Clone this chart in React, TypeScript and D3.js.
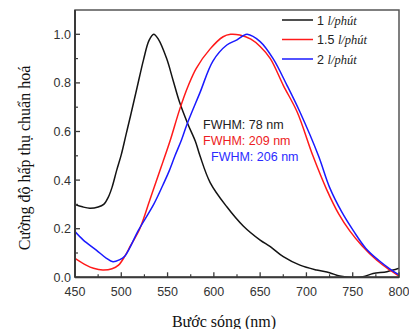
import React from "react";
import * as d3 from "d3";

const xTicks = [450, 500, 550, 600, 650, 700, 750, 800];
const yTicks = [0, 0.2, 0.4, 0.6, 0.8, 1.0];
const xLabel = "Bước sóng (nm)";
const yLabel = "Cường độ hấp thụ chuẩn hoá";

const seriesNames = ["1", "1.5", "2"];
const seriesUnit = "l/phút";
const seriesColors = ["#141414", "#ff1a1a", "#1a1aff"];
const fwhmLabels = ["FWHM: 78 nm", "FWHM: 209 nm", "FWHM: 206 nm"];
const fwhmColors = ["#222222", "#ec1c24", "#2b2bff"];

const blackWl = [450, 458, 466, 475, 481, 486, 490, 495, 500, 505, 510, 517, 524, 530, 535, 540, 549, 556, 563, 572, 580, 585, 596, 614, 632, 650, 661, 675, 693, 711, 725, 736, 747, 761, 772, 787, 800];
const blackVal = [0.3, 0.29, 0.284, 0.289, 0.3, 0.33, 0.37, 0.44, 0.505, 0.585, 0.665, 0.78, 0.895, 0.975, 1.0, 0.98, 0.9, 0.81, 0.72, 0.63, 0.56, 0.5, 0.39, 0.29, 0.21, 0.153, 0.126, 0.085, 0.05, 0.03, 0.019, 0.005, 0.0, 0.002, 0.016, 0.023, 0.037];

const redWl = [450, 462, 470, 480, 490, 497, 504, 510, 520, 531, 540, 545, 553, 563, 572, 581, 596, 610, 618, 628, 640, 650, 661, 675, 690, 707, 722, 735, 747, 760, 776, 790, 800];
const redVal = [0.078, 0.05, 0.037, 0.03, 0.035, 0.05, 0.088, 0.13, 0.2, 0.32, 0.42, 0.475, 0.565, 0.69, 0.785, 0.86, 0.94, 0.99, 1.0, 0.997, 0.98, 0.95, 0.9, 0.79, 0.68, 0.5, 0.36, 0.26, 0.19, 0.13, 0.07, 0.03, 0.005];

const blueWl = [450, 459, 473, 484, 491, 498, 504, 509, 518, 535, 545, 552, 558, 565, 571, 585, 599, 614, 625, 632, 636, 650, 664, 679, 693, 713, 725, 738, 751, 764, 778, 790, 800];
const blueVal = [0.188, 0.153, 0.112, 0.078, 0.064, 0.072, 0.088, 0.12, 0.19, 0.3, 0.38, 0.44, 0.5, 0.565, 0.63, 0.76, 0.89, 0.956, 0.977, 0.995, 1.0, 0.97, 0.9, 0.79, 0.68, 0.5, 0.37, 0.27, 0.19, 0.12, 0.07, 0.035, 0.01];

const W = 409;
const H = 329;
const left = 75, right = 399, top = 10, bottom = 277.3;

export default function App() {
  const x = d3.scaleLinear().domain([450, 800]).range([left, right]);
  const y = d3.scaleLinear().domain([0, 1.1]).range([bottom, top]);
  const line = d3
    .line<[number, number]>()
    .x((d) => x(d[0]))
    .y((d) => y(d[1]))
    .curve(d3.curveCatmullRom.alpha(0.5));

  const series = [
    blackWl.map((w, i) => [w, blackVal[i]] as [number, number]),
    redWl.map((w, i) => [w, redVal[i]] as [number, number]),
    blueWl.map((w, i) => [w, blueVal[i]] as [number, number]),
  ];

  const xMinor = d3.range(475, 800, 50);
  const yMinor = [0.1, 0.3, 0.5, 0.7, 0.9];
  const sans = "'Liberation Sans', Arial, sans-serif";
  const serif = "'Liberation Serif', 'Times New Roman', serif";
  const axisColor = "#3a3a3a";
  const legendY = [20, 39.5, 59];
  const fwhmPos = [
    [203, 129],
    [203, 145],
    [211, 160.5],
  ];

  return (
    <svg
      width={W}
      height={H}
      style={{ position: "absolute", left: 0, top: 0, background: "#fff" }}
    >
      <defs>
        <clipPath id="plotclip">
          <rect x={left} y={top} width={right - left} height={bottom - top} />
        </clipPath>
      </defs>
      <g clipPath="url(#plotclip)">
        {series.map((s, i) => (
          <path
            key={i}
            d={line(s) || ""}
            fill="none"
            stroke={seriesColors[i]}
            strokeWidth={1.5}
          />
        ))}
      </g>
      <rect
        x={left}
        y={top}
        width={right - left}
        height={bottom - top}
        fill="none"
        stroke="#555"
        strokeWidth={1.5}
      />
      <line x1={left} x2={left} y1={top} y2={bottom} stroke={axisColor} strokeWidth={2} />
      <line x1={left} x2={right} y1={bottom} y2={bottom} stroke={axisColor} strokeWidth={2} />
      {xTicks.map((t) => (
        <g key={"xt" + t}>
          <line x1={x(t)} x2={x(t)} y1={bottom} y2={bottom - 5} stroke={axisColor} strokeWidth={1.3} />
          <text
            x={x(t)}
            y={bottom + 19}
            textAnchor="middle"
            fontFamily={sans}
            fontSize={12.5}
            fill="#333"
          >
            {t}
          </text>
        </g>
      ))}
      {xMinor.map((t) => (
        <line key={"xm" + t} x1={x(t)} x2={x(t)} y1={bottom} y2={bottom - 3} stroke={axisColor} strokeWidth={1.2} />
      ))}
      {yTicks.map((t) => (
        <g key={"yt" + t}>
          <line x1={left} x2={left + 5} y1={y(t)} y2={y(t)} stroke={axisColor} strokeWidth={1.3} />
          <text
            x={left - 4}
            y={y(t) + 4.5}
            textAnchor="end"
            fontFamily={sans}
            fontSize={12.5}
            fill="#333"
          >
            {t.toFixed(1)}
          </text>
        </g>
      ))}
      {yMinor.map((t) => (
        <line key={"ym" + t} x1={left} x2={left + 3} y1={y(t)} y2={y(t)} stroke={axisColor} strokeWidth={1.2} />
      ))}
      {seriesNames.map((n, i) => (
        <g key={"lg" + i}>
          <line x1={282} x2={313} y1={legendY[i]} y2={legendY[i]} stroke={seriesColors[i]} strokeWidth={1.5} />
          <text x={317} y={legendY[i] + 4.5} fontSize={12.5} fill="#222">
            <tspan fontFamily={sans}>{n} </tspan>
            <tspan fontFamily={serif} fontStyle="italic">
              {seriesUnit}
            </tspan>
          </text>
        </g>
      ))}
      {fwhmLabels.map((l, i) => (
        <text
          key={"fw" + i}
          x={fwhmPos[i][0]}
          y={fwhmPos[i][1]}
          fontFamily={sans}
          fontSize={12.5}
          fill={fwhmColors[i]}
        >
          {l}
        </text>
      ))}
      <text x={224} y={327} textAnchor="middle" fontFamily={serif} fontSize={16} fill="#111">
        {xLabel}
      </text>
      <text
        transform={`translate(30, 158) rotate(-90)`}
        textAnchor="middle"
        fontFamily={serif}
        fontSize={16}
        fill="#111"
      >
        {yLabel}
      </text>
    </svg>
  );
}
